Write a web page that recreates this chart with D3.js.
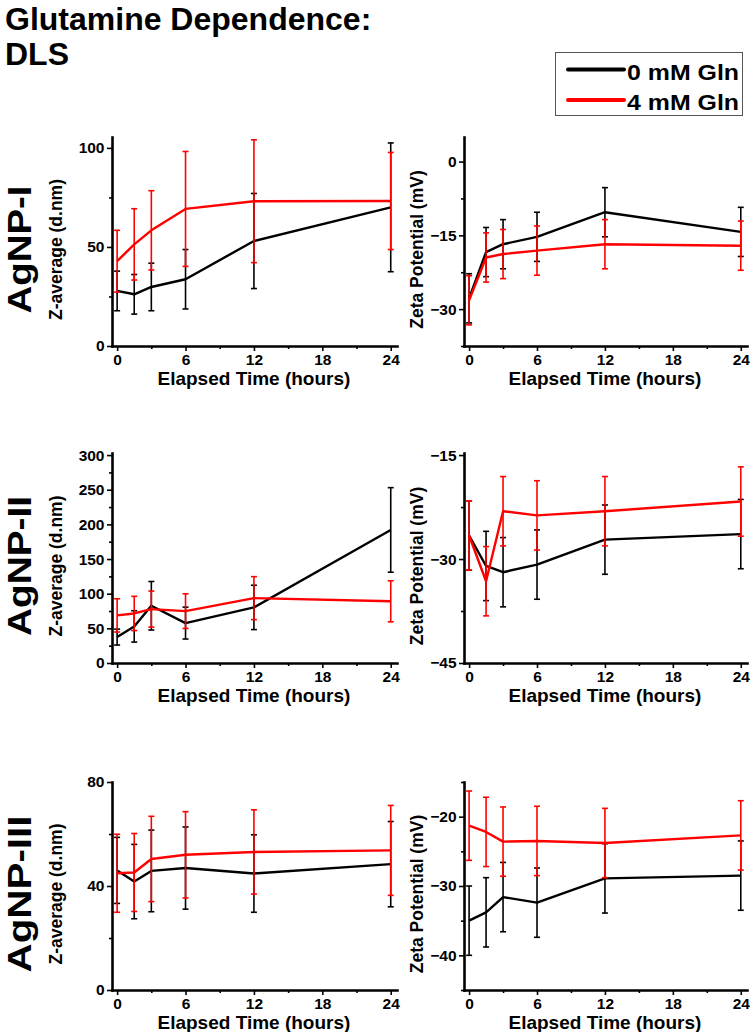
<!DOCTYPE html>
<html>
<head>
<meta charset="utf-8">
<script src="https://cdn.jsdelivr.net/npm/d3@7"></script>
<style>
    body { margin: 0; background: #fff; }
    svg { display: block; font-family: "Liberation Sans", Arial, sans-serif; font-weight: bold; }
</style>
</head>
<body>
<svg id="chart" width="750" height="1032"></svg>
<script>
// time points (hours)
const HOURS = [0, 1.5, 3, 6, 12, 24];
const X_TICKS = [0, 6, 12, 18, 24];
const X_MINOR = [3, 9, 15, 21];

const SERIES_NAMES = ["0 mM Gln", "4 mM Gln"];
const ROW_NAMES = ["AgNP-I", "AgNP-II", "AgNP-III"];

// AgNP-I
const SIZE_I_0 = [27.8, 26.1, 29.8, 33.7, 53, 70];
const SIZE_I_0_ERR = [10, 10, 12, 15, 24, 32.5];
const SIZE_I_4 = [42.8, 51.3, 58.4, 69.2, 73.1, 73.2];
const SIZE_I_4_ERR = [15.6, 18, 20, 29, 31, 24.5];
const ZETA_I_0 = [-27.8, -18.4, -16.8, -15.3, -10.3, -14.3];
const ZETA_I_0_ERR = [5, 5, 5, 5, 5, 5];
const ZETA_I_4 = [-28.2, -19.5, -18.8, -18.1, -16.8, -17.1];
const ZETA_I_4_ERR = [5, 5, 5, 5, 5, 5];

// AgNP-II
const SIZE_II_0 = [37.4, 52.8, 82.6, 57.6, 80.2, 192];
const SIZE_II_0_ERR = [11.5, 22.6, 35, 23, 32, 61];
const SIZE_II_4 = [68.7, 71.5, 77.8, 74.9, 93.6, 89];
const SIZE_II_4_ERR = [24, 24.7, 26, 25, 31, 29.6];
const ZETA_II_0 = [-26.6, -31.0, -31.9, -30.8, -27.2, -26.4];
const ZETA_II_0_ERR = [5, 5, 5, 5, 5, 5];
const ZETA_II_4 = [-26.6, -33.2, -23.1, -23.7, -23.1, -21.7];
const ZETA_II_4_ERR = [5, 5, 5, 5, 5, 5];

// AgNP-III
const SIZE_III_0 = [46, 41.7, 45.8, 46.9, 44.8, 48.4];
const SIZE_III_0_ERR = [12.7, 14.3, 15.7, 15.8, 14.9, 16.4];
const SIZE_III_4 = [44.9, 45.2, 50.4, 52, 53.1, 53.7];
const SIZE_III_4_ERR = [15, 15, 16.4, 16.6, 16.2, 17.3];
const ZETA_III_0 = [-35, -33.8, -31.6, -32.4, -28.9, -28.5];
const ZETA_III_0_ERR = [5, 5, 5, 5, 5, 5];
const ZETA_III_4 = [-21.3, -22.2, -23.6, -23.5, -23.8, -22.7];
const ZETA_III_4_ERR = [5, 5, 5, 5, 5, 5];

// y axes: domain, major ticks, minor ticks
const SIZE_I_Y = [0, 105.5], SIZE_I_TICKS = [0, 50, 100], SIZE_I_MINOR = [25, 75];
const ZETA_I_Y = [-37.5, 5], ZETA_I_TICKS = [-30, -15, 0], ZETA_I_MINOR = [-37.5, -22.5, -7.5];
const SIZE_II_Y = [0, 303], SIZE_II_TICKS = [0, 50, 100, 150, 200, 250, 300], SIZE_II_MINOR = [25, 75, 125, 175, 225, 275];
const ZETA_II_Y = [-45, -14.7], ZETA_II_TICKS = [-45, -30, -15], ZETA_II_MINOR = [-37.5, -22.5];
const SIZE_III_Y = [0, 80], SIZE_III_TICKS = [0, 40, 80], SIZE_III_MINOR = [20, 60];
const ZETA_III_Y = [-45, -15], ZETA_III_TICKS = [-40, -30, -20], ZETA_III_MINOR = [-45, -35, -25, -15];

const svg = d3.select('#chart');
const ctx = {
    X_DOMAIN: [-0.45, 24.55],
    LEFT_X: [112, 397],
    RIGHT_X: [464, 747],
    ROWS_Y: [[346, 137], [663, 453], [990, 782]],

    COLORS: ["#000000", "#ff0000"],
    LINE_W: 2.4,
    ERR_W: 1.6,
    CAP: 3,

    TICK_FONT: "15.5px",
    XLABEL_FONT: "19px",
    YLABEL_FONT: "17.5px",
    ROW_FONT: "34px",
    ROW_LENGTHS: [128, 140, 157],
};

main();

function main() {
    drawTitle();
    drawLegend();

    const panels = [
        [SIZE_I_0, SIZE_I_0_ERR, SIZE_I_4, SIZE_I_4_ERR, SIZE_I_Y, SIZE_I_TICKS, SIZE_I_MINOR],
        [ZETA_I_0, ZETA_I_0_ERR, ZETA_I_4, ZETA_I_4_ERR, ZETA_I_Y, ZETA_I_TICKS, ZETA_I_MINOR],
        [SIZE_II_0, SIZE_II_0_ERR, SIZE_II_4, SIZE_II_4_ERR, SIZE_II_Y, SIZE_II_TICKS, SIZE_II_MINOR],
        [ZETA_II_0, ZETA_II_0_ERR, ZETA_II_4, ZETA_II_4_ERR, ZETA_II_Y, ZETA_II_TICKS, ZETA_II_MINOR],
        [SIZE_III_0, SIZE_III_0_ERR, SIZE_III_4, SIZE_III_4_ERR, SIZE_III_Y, SIZE_III_TICKS, SIZE_III_MINOR],
        [ZETA_III_0, ZETA_III_0_ERR, ZETA_III_4, ZETA_III_4_ERR, ZETA_III_Y, ZETA_III_TICKS, ZETA_III_MINOR],
    ];

    panels.forEach((p, i) => {
        const row = Math.floor(i / 2);
        const isZeta = i % 2 === 1;
        drawPanel({
            xRange: isZeta ? ctx.RIGHT_X : ctx.LEFT_X,
            yRange: ctx.ROWS_Y[row],
            series: [[p[0], p[1]], [p[2], p[3]]],
            yDomain: p[4],
            yTicks: p[5],
            yMinor: p[6],
            yLabel: isZeta ? "Zeta Potential (mV)" : "Z-average (d.nm)",
            yLabelX: isZeta ? 423 : 62,
        });
    });

    // big row labels on the far left
    ROW_NAMES.forEach((name, row) => {
        const [y0, y1] = ctx.ROWS_Y[row];
        const cy = (y0 + y1) / 2 + 8;
        svg.append("text")
            .attr("transform", `translate(31,${cy}) rotate(-90)`)
            .attr("text-anchor", "middle")
            .attr("textLength", ctx.ROW_LENGTHS[row])
            .attr("lengthAdjust", "spacingAndGlyphs")
            .style("font-size", ctx.ROW_FONT)
            .text(name);
    });
}

function drawTitle() {
    const title = svg.append("text")
        .attr("x", 5)
        .style("font-size", "32px");
    title.append("tspan").attr("x", 5).attr("y", 30).text("Glutamine Dependence:");
    title.append("tspan").attr("x", 5).attr("y", 65).text("DLS");
}

function drawLegend() {
    const g = svg.append("g");
    g.append("rect")
        .attr("x", 555.5).attr("y", 52.5)
        .attr("width", 187).attr("height", 63)
        .attr("fill", "#fff")
        .attr("stroke", "#555")
        .attr("stroke-width", 1);

    SERIES_NAMES.forEach((name, i) => {
        const y = 69.5 + i * 30.5;
        g.append("line")
            .attr("x1", 568).attr("x2", 624)
            .attr("y1", y).attr("y2", y)
            .attr("stroke", ctx.COLORS[i])
            .attr("stroke-width", 4)
            .attr("stroke-linecap", "round");
        g.append("text")
            .attr("x", 627)
            .attr("y", y + 10)
            .attr("textLength", 112)
            .attr("lengthAdjust", "spacingAndGlyphs")
            .style("font-size", "22px")
            .text(name);
    });
}

function drawPanel(opt) {
    const x = d3.scaleLinear().domain(ctx.X_DOMAIN).range(opt.xRange);
    const y = d3.scaleLinear().domain(opt.yDomain).range(opt.yRange);
    const g = svg.append("g");
    const x0 = opt.xRange[0];
    const yBottom = opt.yRange[0];

    // minor ticks first, then the major axis on top
    g.append("g")
        .attr("transform", `translate(0,${yBottom})`)
        .call(d3.axisBottom(x).tickValues(X_MINOR).tickSize(3).tickSizeOuter(0).tickFormat(""))
        .call(a => a.select(".domain").remove());
    g.append("g")
        .attr("transform", `translate(${x0},0)`)
        .call(d3.axisLeft(y).tickValues(opt.yMinor).tickSize(3).tickSizeOuter(0).tickFormat(""))
        .call(a => a.select(".domain").remove());

    const xAxis = g.append("g")
        .attr("transform", `translate(0,${yBottom})`)
        .call(d3.axisBottom(x).tickValues(X_TICKS).tickSize(5).tickPadding(3).tickSizeOuter(0));
    const yAxis = g.append("g")
        .attr("transform", `translate(${x0},0)`)
        .call(d3.axisLeft(y).tickValues(opt.yTicks).tickSize(5).tickPadding(2.5).tickSizeOuter(0));

    [xAxis, yAxis].forEach(a => {
        a.attr("font-family", null).attr("font-size", null);
        a.selectAll("text").style("font-size", ctx.TICK_FONT).attr("fill", "#000");
        a.select(".domain").attr("stroke-width", 2.6).attr("stroke-linecap", "square");
    });
    g.selectAll(".tick line").attr("stroke-width", 1.6).attr("stroke", "#000");

    // axis titles
    g.append("text")
        .attr("x", (x(0) + x(24)) / 2)
        .attr("y", yBottom + 39)
        .attr("text-anchor", "middle")
        .style("font-size", ctx.XLABEL_FONT)
        .text("Elapsed Time (hours)");
    g.append("text")
        .attr("transform", `translate(${opt.yLabelX},${(opt.yRange[0] + opt.yRange[1]) / 2 + 8}) rotate(-90)`)
        .attr("text-anchor", "middle")
        .style("font-size", ctx.YLABEL_FONT)
        .text(opt.yLabel);

    const line = d3.line()
        .x((d, i) => x(HOURS[i]))
        .y(d => y(d));

    // black series first, red drawn over it
    opt.series.forEach(([vals, errs], s) => {
        const col = ctx.COLORS[s];
        g.append("path")
            .datum(vals)
            .attr("d", line)
            .attr("fill", "none")
            .attr("stroke", col)
            .attr("stroke-width", ctx.LINE_W)
            .attr("stroke-linejoin", "round");

        const bars = g.append("g")
            .attr("stroke", col)
            .attr("stroke-width", ctx.ERR_W);
        vals.forEach((v, i) => {
            const cx = x(HOURS[i]);
            const top = y(v + errs[i]);
            const bot = y(v - errs[i]);
            bars.append("line").attr("x1", cx).attr("x2", cx).attr("y1", top).attr("y2", bot);
            bars.append("line").attr("x1", cx - ctx.CAP).attr("x2", cx + ctx.CAP).attr("y1", top).attr("y2", top);
            bars.append("line").attr("x1", cx - ctx.CAP).attr("x2", cx + ctx.CAP).attr("y1", bot).attr("y2", bot);
        });
    });
}
</script>
</body>
</html>
